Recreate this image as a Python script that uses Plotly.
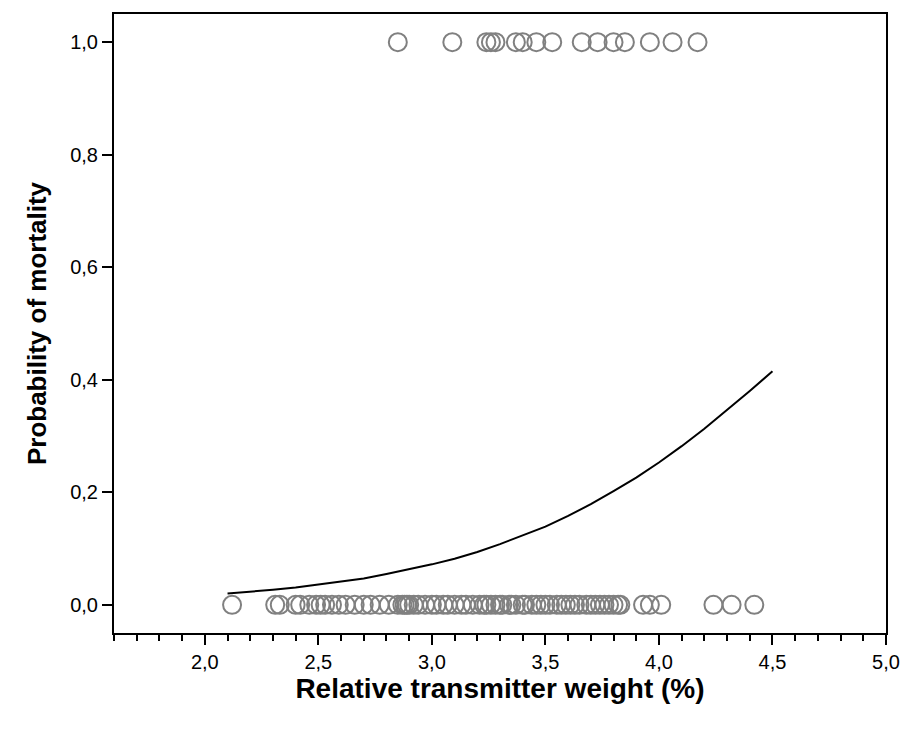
import plotly.graph_objects as go

# Observed outcomes: fish that died (y = 1) and survived (y = 0)
weight_died = [2.85, 3.09, 3.24, 3.26, 3.28, 3.37, 3.40, 3.46, 3.53, 3.66,
               3.73, 3.80, 3.85, 3.96, 4.06, 4.17]
weight_survived = [2.12, 2.31, 2.33, 2.40, 2.42, 2.46, 2.49, 2.51, 2.53, 2.56,
                   2.59, 2.62, 2.66, 2.70, 2.73, 2.77, 2.81, 2.85, 2.87, 2.88,
                   2.89, 2.90, 2.92, 2.94, 2.97, 3.00, 3.02, 3.05, 3.07, 3.10,
                   3.13, 3.15, 3.18, 3.21, 3.23, 3.24, 3.26, 3.28, 3.30, 3.31,
                   3.34, 3.35, 3.37, 3.40, 3.41, 3.44, 3.46, 3.48, 3.50, 3.52,
                   3.55, 3.57, 3.59, 3.61, 3.63, 3.65, 3.68, 3.70, 3.72, 3.74,
                   3.76, 3.78, 3.80, 3.82, 3.83, 3.93, 3.96, 4.01, 4.24, 4.32,
                   4.42]

# Fitted probability curve
curve_x = [2.1, 2.2, 2.3, 2.4, 2.5, 2.6, 2.7, 2.8, 2.9, 3.0, 3.1, 3.2, 3.3,
           3.4, 3.5, 3.6, 3.7, 3.8, 3.9, 4.0, 4.1, 4.2, 4.3, 4.4, 4.5]
curve_p = [0.020, 0.023, 0.027, 0.031, 0.036, 0.041, 0.047, 0.055, 0.063,
           0.072, 0.082, 0.094, 0.108, 0.123, 0.139, 0.158, 0.179, 0.202,
           0.226, 0.253, 0.282, 0.313, 0.346, 0.380, 0.415]

x_ticks = [2.0, 2.5, 3.0, 3.5, 4.0, 4.5, 5.0]
y_ticks = [0.0, 0.2, 0.4, 0.6, 0.8, 1.0]

marker_style = dict(symbol="circle-open", size=18, color="#808080",
                    line=dict(width=2, color="#808080"))

fig = go.Figure()
fig.add_trace(go.Scatter(x=weight_died, y=[1.0] * len(weight_died),
                         mode="markers", marker=marker_style, showlegend=False))
fig.add_trace(go.Scatter(x=weight_survived, y=[0.0] * len(weight_survived),
                         mode="markers", marker=marker_style, showlegend=False))
fig.add_trace(go.Scatter(x=curve_x, y=curve_p, mode="lines",
                         line=dict(color="black", width=2), showlegend=False))

font_family = "Liberation Sans, Arial, sans-serif"
tick_font = dict(family=font_family, size=20, color="black")
fig.update_layout(
    width=912, height=733,
    margin=dict(l=114, r=18, t=12, b=100),
    paper_bgcolor="white", plot_bgcolor="white",
    separators=", ",
    font=dict(family=font_family, size=20, color="black"),
    xaxis=dict(
        range=[1.6, 5.0], tickvals=x_ticks, tickformat=".1f",
        tickfont=tick_font,
        ticks="outside", ticklen=10, tickwidth=2, tickcolor="black",
        minor=dict(dtick=0.1, tick0=1.6, ticks="outside", ticklen=6,
                   tickwidth=2, tickcolor="black"),
        showline=True, linewidth=2, linecolor="black", mirror=True,
        showgrid=False, zeroline=False,
        title=dict(text="<b>Relative transmitter weight (%)</b>",
                   font=dict(family=font_family, size=28, color="black"),
                   standoff=6),
    ),
    yaxis=dict(
        range=[-0.05, 1.05], tickvals=y_ticks, tickformat=".1f",
        tickfont=tick_font,
        ticks="outside", ticklen=10, tickwidth=2, tickcolor="black",
        showline=True, linewidth=2, linecolor="black", mirror=True,
        showgrid=False, zeroline=False,
        title=dict(text="<b>Probability of mortality</b>",
                   font=dict(family=font_family, size=26, color="black"),
                   standoff=16),
    ),
)

fig.write_html("out.html")
